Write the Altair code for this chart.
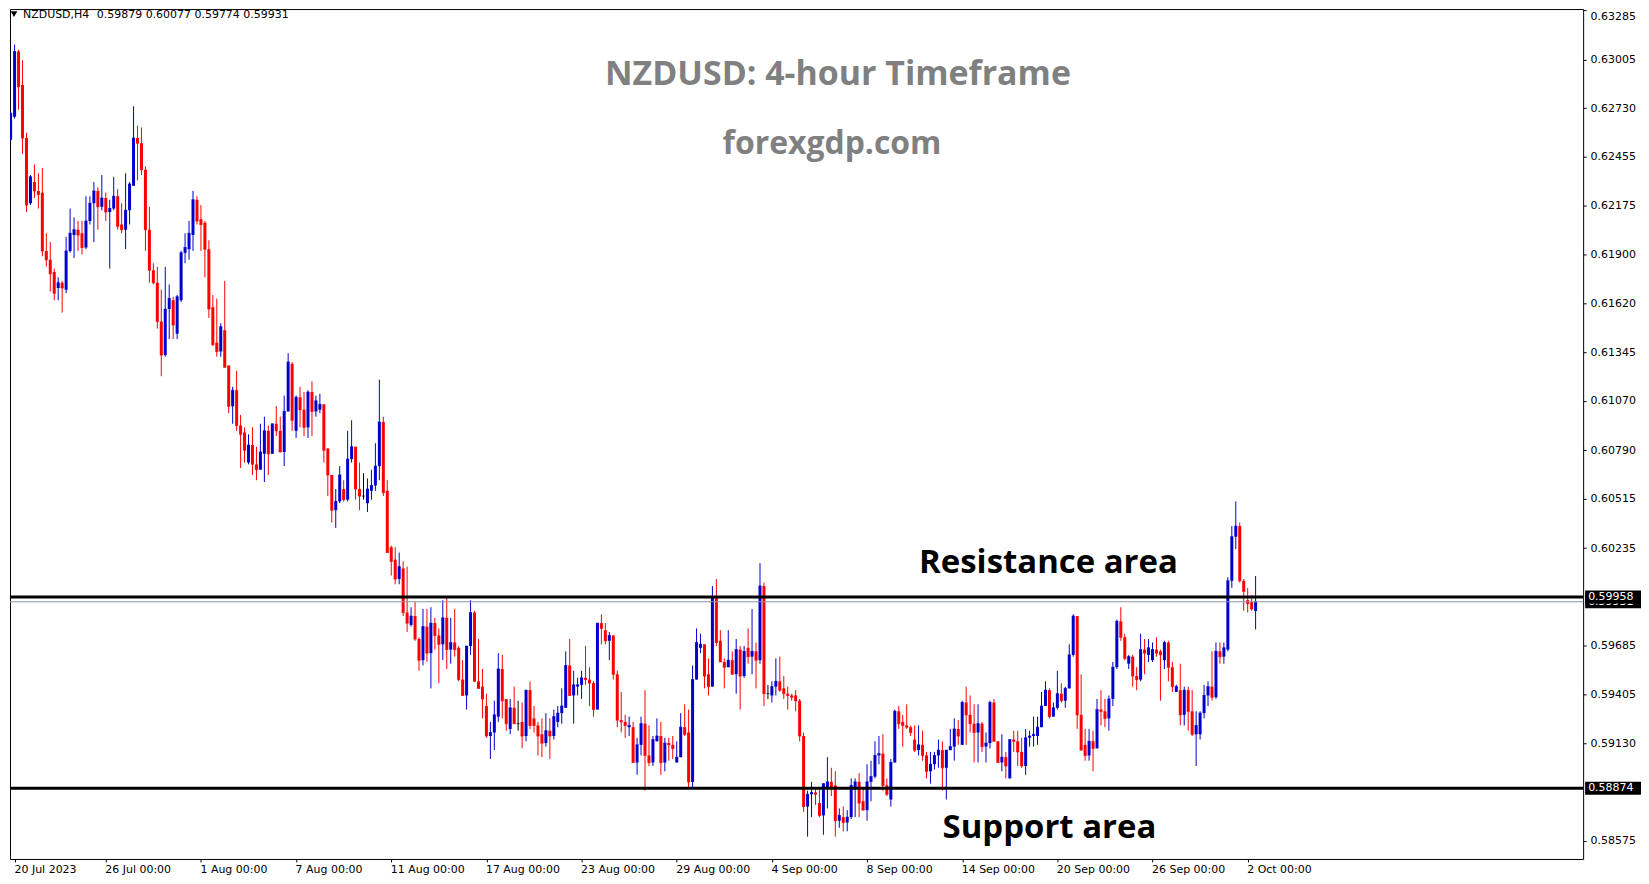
import altair as alt
import pandas as pd

# ---------------- data ----------------
x_labels = ["20 Jul 2023", "26 Jul 00:00", "1 Aug 00:00", "7 Aug 00:00", "11 Aug 00:00",
            "17 Aug 00:00", "23 Aug 00:00", "29 Aug 00:00", "4 Sep 00:00", "8 Sep 00:00",
            "14 Sep 00:00", "20 Sep 00:00", "26 Sep 00:00", "2 Oct 00:00"]
bars_per_label = 24

y_ticks = [0.63285, 0.63005, 0.62730, 0.62455, 0.62175, 0.61900, 0.61620, 0.61345,
           0.61070, 0.60790, 0.60515, 0.60235, 0.59685, 0.59405, 0.59130, 0.58575]

resistance = 0.59958
support = 0.58874
bid = 0.59931

open_ = [
 .6255,.6268,.6305,.6286,.6256,.6219,.6231,.6226,.6225,.6192,
 .6187,.6180,.6171,.6174,.6170,.6192,.6201,.6204,.6202,.6194,
 .6209,.6219,.6226,.6217,.6222,.6214,.6216,.6223,.6207,.6204,
 .6215,.6229,.6256,.6253,.6238,.6204,.6181,.6174,.6152,.6133,
 .6159,.6164,.6145,.6164,.6191,.6193,.6201,.6221,.6210,.6208,
 .6193,.6160,.6140,.6135,.6147,.6127,.6104,.6113,.6093,.6089,
 .6072,.6082,.6071,.6068,.6077,.6090,.6077,.6094,.6090,.6078,
 .6101,.6128,.6090,.6109,.6102,.6092,.6112,.6101,.6102,.6105,
 .6080,.6065,.6045,.6050,.6057,.6051,.6074,.6081,.6057,.6053,
 .6049,.6056,.6059,.6070,.6095,.6056,.6024,.6017,.6006,.6012,
 .5987,.5980,.5985,.5972,.5960,.5979,.5964,.5981,.5974,.5969,
 .5984,.5966,.5970,.5967,.5949,.5940,.5968,.5987,.5948,.5945,
 .5934,.5917,.5919,.5928,.5955,.5938,.5921,.5933,.5924,.5925,
 .5917,.5943,.5927,.5923,.5918,.5913,.5920,.5917,.5925,.5930,
 .5933,.5957,.5940,.5945,.5946,.5950,.5949,.5947,.5932,.5981,
 .5977,.5971,.5974,.5952,.5926,.5925,.5922,.5922,.5902,.5912,
 .5924,.5906,.5902,.5914,.5917,.5902,.5913,.5912,.5902,.5905,
 .5922,.5919,.5891,.5949,.5967,.5969,.5952,.5945,.5996,.5971,
 .5959,.5956,.5960,.5952,.5966,.5951,.5967,.5962,.5965,.5960,
 .6002,.5941,.5940,.5945,.5948,.5944,.5941,.5940,.5940,.5937,
 .5917,.5877,.5884,.5885,.5879,.5872,.5888,.5891,.5889,.5869,
 .5871,.5868,.5871,.5888,.5891,.5880,.5875,.5891,.5894,.5906,
 .5907,.5889,.5881,.5902,.5931,.5925,.5923,.5922,.5915,.5909,
 .5912,.5906,.5897,.5901,.5906,.5909,.5899,.5909,.5911,.5921,
 .5912,.5936,.5929,.5924,.5919,.5924,.5911,.5913,.5936,.5914,
 .5902,.5905,.5893,.5915,.5914,.5908,.5900,.5916,.5917,.5917,
 .5922,.5934,.5943,.5928,.5933,.5941,.5937,.5944,.5963,.5985,
 .5929,.5912,.5906,.5914,.5910,.5932,.5931,.5927,.5938,.5956,
 .5982,.5973,.5958,.5962,.5951,.5949,.5966,.5963,.5960,.5966,
 .5965,.5960,.5970,.5956,.5942,.5943,.5929,.5943,.5931,.5918,
 .5918,.5930,.5940,.5945,.5939,.5965,.5962,.5966,.6005,.6030,
 .6036,.6005,.5994,.5993,.59879]

high = [
 .6271,.6309,.6306,.6300,.6259,.6235,.6241,.6236,.6239,.6202,
 .6197,.6182,.6177,.6175,.6200,.6216,.6211,.6209,.6209,.6223,
 .6223,.6231,.6228,.6235,.6225,.6221,.6234,.6227,.6219,.6236,
 .6231,.6274,.6263,.6262,.6240,.6217,.6185,.6183,.6170,.6183,
 .6173,.6166,.6167,.6192,.6202,.6209,.6226,.6223,.6218,.6209,
 .6198,.6167,.6165,.6151,.6175,.6127,.6115,.6124,.6099,.6092,
 .6088,.6092,.6081,.6094,.6098,.6093,.6094,.6104,.6098,.6110,
 .6134,.6129,.6110,.6115,.6112,.6113,.6118,.6110,.6111,.6105,
 .6080,.6065,.6057,.6070,.6062,.6090,.6096,.6081,.6072,.6066,
 .6063,.6068,.6083,.6119,.6098,.6062,.6025,.6024,.6021,.6016,
 .6013,.5990,.5993,.5973,.5989,.5989,.5990,.5984,.5978,.5994,
 .5996,.5984,.5989,.5968,.5960,.5968,.5994,.5988,.5972,.5955,
 .5941,.5925,.5937,.5964,.5963,.5938,.5938,.5945,.5937,.5936,
 .5943,.5948,.5934,.5925,.5927,.5930,.5927,.5932,.5934,.5944,
 .5965,.5972,.5954,.5950,.5954,.5968,.5956,.5948,.5981,.5986,
 .5981,.5976,.5974,.5954,.5942,.5929,.5928,.5925,.5916,.5928,
 .5943,.5923,.5917,.5927,.5925,.5916,.5916,.5917,.5914,.5930,
 .5935,.5932,.5957,.5978,.5975,.5969,.5961,.6002,.6006,.5977,
 .5961,.5977,.5965,.5972,.5968,.5968,.5978,.5989,.5970,.6015,
 .6004,.5946,.5948,.5961,.5962,.5951,.5945,.5941,.5943,.5938,
 .5919,.5886,.5891,.5887,.5887,.5890,.5905,.5899,.5897,.5876,
 .5877,.5875,.5893,.5893,.5896,.5888,.5901,.5903,.5914,.5917,
 .5918,.5893,.5904,.5932,.5934,.5929,.5935,.5923,.5923,.5923,
 .5920,.5908,.5908,.5908,.5915,.5914,.5909,.5921,.5927,.5926,
 .5937,.5945,.5940,.5935,.5935,.5925,.5919,.5937,.5938,.5914,
 .5918,.5908,.5915,.5920,.5920,.5916,.5921,.5920,.5928,.5928,
 .5942,.5948,.5944,.5936,.5954,.5947,.5945,.5969,.5986,.5985,
 .5952,.5921,.5921,.5920,.5938,.5943,.5938,.5940,.5959,.5983,
 .5990,.5975,.5963,.5963,.5956,.5975,.5972,.5972,.5970,.5973,
 .5966,.5971,.5971,.5959,.5946,.5958,.5945,.5945,.5943,.5931,
 .5931,.5946,.5948,.5965,.5970,.5970,.5970,.6007,.6036,.6050,
 .6038,.6006,.6001,.5997,.60077]

low = [
 .6254,.6267,.6272,.6247,.6214,.6218,.6222,.6216,.6189,.6183,
 .6169,.6164,.6164,.6157,.6168,.6191,.6188,.6192,.6190,.6193,
 .6207,.6197,.6204,.6215,.6209,.6182,.6215,.6204,.6202,.6193,
 .6207,.6229,.6232,.6235,.6192,.6174,.6173,.6148,.6121,.6132,
 .6142,.6142,.6142,.6163,.6185,.6187,.6192,.6207,.6192,.6177,
 .6154,.6138,.6132,.6132,.6126,.6100,.6094,.6090,.6069,.6072,
 .6071,.6065,.6062,.6068,.6061,.6065,.6077,.6087,.6078,.6070,
 .6101,.6090,.6086,.6092,.6087,.6086,.6087,.6098,.6100,.6072,
 .6053,.6038,.6035,.6049,.6050,.6050,.6072,.6051,.6045,.6051,
 .6044,.6051,.6056,.6062,.6053,.6021,.6008,.6003,.6003,.5985,
 .5976,.5979,.5971,.5954,.5957,.5959,.5944,.5966,.5947,.5960,
 .5955,.5958,.5962,.5948,.5940,.5932,.5963,.5948,.5944,.5927,
 .5916,.5904,.5909,.5925,.5927,.5920,.5918,.5924,.5920,.5910,
 .5914,.5921,.5919,.5906,.5905,.5911,.5904,.5915,.5922,.5924,
 .5933,.5940,.5924,.5940,.5938,.5946,.5934,.5928,.5932,.5969,
 .5969,.5960,.5949,.5922,.5919,.5916,.5917,.5902,.5895,.5906,
 .5886,.5900,.5900,.5914,.5895,.5897,.5903,.5904,.5902,.5905,
 .5917,.5888,.5888,.5949,.5964,.5944,.5940,.5945,.5968,.5959,
 .5944,.5956,.5952,.5941,.5932,.5950,.5958,.5952,.5944,.5958,
 .5934,.5938,.5936,.5940,.5942,.5938,.5932,.5937,.5931,.5914,
 .5874,.5860,.5871,.5878,.5871,.5861,.5876,.5883,.5860,.5865,
 .5863,.5863,.5870,.5871,.5871,.5875,.5869,.5880,.5893,.5901,
 .5886,.5883,.5877,.5902,.5921,.5911,.5921,.5917,.5908,.5906,
 .5903,.5893,.5890,.5898,.5899,.5886,.5881,.5909,.5903,.5912,
 .5912,.5912,.5919,.5902,.5902,.5908,.5902,.5910,.5914,.5902,
 .5897,.5893,.5893,.5908,.5900,.5899,.5895,.5911,.5911,.5912,
 .5922,.5934,.5927,.5928,.5932,.5936,.5933,.5944,.5962,.5921,
 .5909,.5903,.5903,.5897,.5910,.5923,.5922,.5920,.5934,.5955,
 .5971,.5960,.5955,.5945,.5943,.5948,.5952,.5959,.5959,.5962,
 .5937,.5955,.5948,.5942,.5942,.5923,.5923,.5920,.5917,.5900,
 .5915,.5927,.5934,.5937,.5938,.5958,.5958,.5965,.6001,.6023,
 .6004,.5988,.5987,.5988,.59774]

close = [
 .6270,.6305,.6285,.6256,.6218,.6234,.6226,.6224,.6192,.6187,
 .6179,.6168,.6174,.6171,.6192,.6202,.6204,.6201,.6194,.6209,
 .6219,.6226,.6217,.6222,.6214,.6216,.6223,.6206,.6204,.6215,
 .6230,.6256,.6253,.6238,.6204,.6181,.6174,.6152,.6133,.6159,
 .6165,.6150,.6166,.6191,.6194,.6202,.6221,.6209,.6207,.6193,
 .6159,.6139,.6135,.6149,.6126,.6104,.6113,.6093,.6088,.6079,
 .6082,.6071,.6068,.6078,.6090,.6077,.6094,.6090,.6078,.6101,
 .6129,.6096,.6109,.6102,.6092,.6112,.6101,.6107,.6105,.6079,
 .6065,.6045,.6050,.6065,.6051,.6074,.6081,.6057,.6053,.6053,
 .6057,.6059,.6070,.6095,.6055,.6021,.6016,.6006,.6013,.5987,
 .5981,.5985,.5972,.5960,.5979,.5964,.5981,.5974,.5969,.5984,
 .5966,.5970,.5966,.5949,.5940,.5968,.5987,.5948,.5944,.5938,
 .5917,.5919,.5929,.5955,.5937,.5924,.5933,.5924,.5924,.5917,
 .5943,.5923,.5923,.5917,.5913,.5920,.5917,.5928,.5930,.5934,
 .5957,.5940,.5946,.5946,.5950,.5949,.5947,.5932,.5981,.5978,
 .5971,.5974,.5952,.5926,.5925,.5923,.5923,.5902,.5912,.5924,
 .5906,.5902,.5915,.5917,.5902,.5913,.5912,.5910,.5905,.5922,
 .5918,.5891,.5949,.5970,.5969,.5951,.5945,.5996,.5970,.5959,
 .5956,.5960,.5952,.5966,.5951,.5965,.5962,.5965,.5960,.6002,
 .5941,.5941,.5945,.5948,.5943,.5941,.5940,.5939,.5937,.5917,
 .5877,.5884,.5885,.5884,.5872,.5890,.5891,.5888,.5869,.5872,
 .5868,.5871,.5889,.5891,.5879,.5875,.5891,.5894,.5906,.5907,
 .5889,.5884,.5902,.5931,.5924,.5923,.5922,.5919,.5909,.5912,
 .5906,.5897,.5901,.5906,.5909,.5899,.5909,.5911,.5921,.5917,
 .5936,.5929,.5924,.5919,.5924,.5911,.5913,.5936,.5914,.5902,
 .5905,.5900,.5915,.5914,.5908,.5900,.5916,.5917,.5918,.5922,
 .5934,.5943,.5928,.5933,.5941,.5937,.5944,.5963,.5985,.5929,
 .5909,.5906,.5914,.5910,.5932,.5931,.5927,.5938,.5956,.5982,
 .5973,.5961,.5962,.5951,.5949,.5966,.5964,.5967,.5966,.5964,
 .5963,.5970,.5956,.5945,.5945,.5929,.5943,.5931,.5918,.5923,
 .5930,.5940,.5945,.5939,.5965,.5962,.5967,.6005,.6030,.6036,
 .6005,.5999,.5992,.5989,.59931]

# ---------------- layout constants ----------------
W, H = 1577, 852
X_DOMAIN = [1.1, 395.35]
Y_DOMAIN = [0.58473, 0.63291]
FONT_AX = "DejaVu Sans"
BLUE, RED = "#0000cd", "#ff0000"

df = pd.DataFrame({"i": list(range(len(open_))), "open": open_, "high": high,
                   "low": low, "close": close})
df["dir"] = ["up" if c > o else ("down" if c < o else "flat") for o, c in zip(open_, close)]

xscale = alt.Scale(domain=X_DOMAIN, nice=False, zero=False)
yscale = alt.Scale(domain=Y_DOMAIN, nice=False, zero=False)
cscale = alt.Scale(domain=["up", "down", "flat"], range=[BLUE, RED, "#000000"])

label_arr = "[" + ",".join("'%s'" % s for s in x_labels) + "]"
x_tick_vals = [X_DOMAIN[0]] + [bars_per_label * k for k in range(1, len(x_labels))]

x_axis = alt.Axis(values=x_tick_vals, labelExpr=label_arr + "[round(datum.value/%d)]" % bars_per_label,
                  grid=False, domain=False, ticks=True, tickSize=3, tickColor="black",
                  labelFont=FONT_AX, labelFontSize=11, labelColor="black", labelAlign="left",
                  labelBaseline="top", labelPadding=2, labelOffset=-1, labelOverlap=False,
                  labelFlush=False, title=None)
y_axis = alt.Axis(values=y_ticks, format=".5f", orient="right", grid=False, domain=False,
                  ticks=True, tickSize=3, tickColor="black", labelFont=FONT_AX, labelFontSize=11,
                  labelColor="black", labelPadding=4, labelOverlap=False, labelFlush=2,
                  title=None)

def X(field):
    return alt.X(field, scale=xscale, axis=x_axis)

def Y(field):
    return alt.Y(field, scale=yscale, axis=y_axis)

base = alt.Chart(df)
color = alt.Color("dir:N", scale=cscale, legend=None)

wicks = base.mark_rule(strokeWidth=1, clip=True).encode(
    x=X("i:Q"), y=Y("low:Q"), y2="high:Q", color=color)
bodies = base.mark_bar(size=3, clip=True).encode(
    x=X("i:Q"), y=Y("open:Q"), y2="close:Q", color=color)
flat = base.mark_tick(orient="horizontal", size=3, thickness=1, clip=True).encode(
    x=X("i:Q"), y=Y("close:Q"), color=color)

lines_df = pd.DataFrame({"price": [bid, resistance, support]})
bid_line = alt.Chart(lines_df.iloc[[0]]).mark_rule(strokeWidth=1, color="#8a96a3").encode(
    y=Y("price:Q"))
level_lines = alt.Chart(lines_df.iloc[[1, 2]]).mark_rule(strokeWidth=3, color="black").encode(
    y=Y("price:Q"))

def text_layer(txt, x, y, size, color, weight="bold", font="Open Sans", align="center"):
    return alt.Chart(pd.DataFrame({"t": [txt]})).mark_text(
        font=font, fontSize=size, fontWeight=weight, color=color, align=align,
        baseline="alphabetic").encode(x=alt.value(x), y=alt.value(y), text="t:N")

title1 = text_layer("NZDUSD: 4-hour Timeframe", 830, 76, 34, "#808080")
title2 = text_layer("forexgdp.com", 824, 145, 32, "#808080")
res_txt = text_layer("Resistance area", 1041, 565, 33, "black")
sup_txt = text_layer("Support area", 1042, 831, 33, "black")
hdr1 = text_layer("NZDUSD,H4", 13, 9, 11, "black", weight="normal", font=FONT_AX, align="left")
hdr2 = text_layer("0.59879 0.60077 0.59774 0.59931", 87, 9, 11, "black", weight="normal",
                  font=FONT_AX, align="left")
tri = alt.Chart(pd.DataFrame({"t": [0]})).mark_point(
    shape="triangle-down", filled=True, color="black", size=45, opacity=1).encode(
    x=alt.value(4), y=alt.value(5))

def price_box(p):
    d = pd.DataFrame({"price": [p], "top": [p + 0.00037], "bot": [p - 0.00037],
                      "lab": ["%.5f" % p]})
    r = alt.Chart(d).mark_rect(color="black").encode(
        x=alt.value(W + 2), x2=alt.value(W + 58), y=Y("top:Q"), y2="bot:Q")
    t = alt.Chart(d).mark_text(color="white", font=FONT_AX, fontSize=11, align="left",
                               baseline="middle").encode(
        x=alt.value(W + 5), y=Y("price:Q"), text="lab:N")
    return [r, t]

boxes = price_box(bid) + price_box(resistance) + price_box(support)

chart = alt.layer(
    wicks, bodies, flat, bid_line, level_lines,
    title1, title2, res_txt, sup_txt, hdr1, hdr2, tri, *boxes
).properties(
    width=W, height=H, padding={"left": 0, "top": 0, "right": 0, "bottom": 0},
    background="white"
).configure_view(stroke="black", strokeWidth=1)

chart.save("out.html", embed_options={"renderer": "svg", "actions": False})
